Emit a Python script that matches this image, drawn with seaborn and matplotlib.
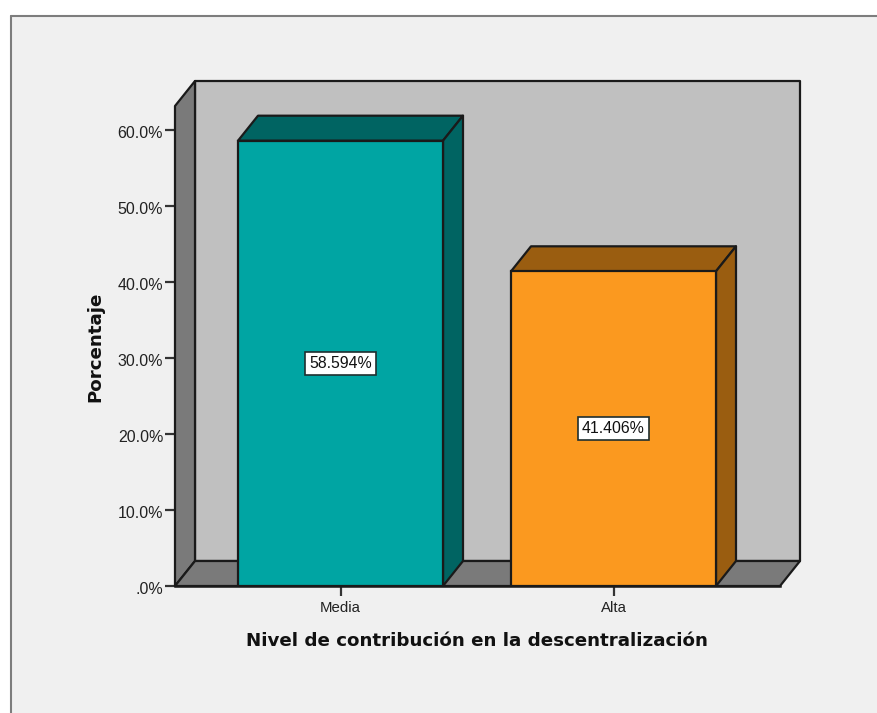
import pandas as pd
import seaborn as sns
import matplotlib
matplotlib.use("Agg")
import matplotlib.pyplot as plt
from matplotlib.lines import Line2D
from matplotlib.patches import Polygon, Rectangle
from matplotlib.transforms import ScaledTranslation

# Values
categorias = ["Media", "Alta"]
porcentajes = [58.594, 41.406]
etiquetas = ["58.594%", "41.406%"]
yticks = [0, 10, 20, 30, 40, 50, 60]
ytick_labels = [".0%", "10.0%", "20.0%", "30.0%", "40.0%", "50.0%", "60.0%"]

W, H = 877, 713
PANEL = "#f0f0f0"
FRENTE = ["#00a5a3", "#fb991f"]
LATERAL = ["#006462", "#9a5d10"]
PARED = "#c0c0c0"
SUELO = "#7a7a7a"
BORDE = "#1a1a1a"

sns.set_theme(style="white")
plt.rcParams["font.family"] = ["Liberation Sans", "DejaVu Sans"]

data = pd.DataFrame({"nivel": categorias, "pct": porcentajes})

fig = plt.figure(figsize=(W / 100, H / 100), dpi=100, facecolor="white")
fig.add_artist(Rectangle((11 / W, 0), 1 - 11 / W, 1 - 16 / H, transform=fig.transFigure,
                         facecolor=PANEL, edgecolor="none", zorder=-5))
for xs, ys in [([10.5 / W, 10.5 / W], [0, 1 - 15.5 / H]), ([10.5 / W, 1], [1 - 15.5 / H, 1 - 15.5 / H])]:
    fig.add_artist(Line2D(xs, ys, color="#7d7d7d", lw=1.5, zorder=-4))

# Axes box = front plane of the 3D box
ax = fig.add_axes([175 / W, 1 - 586 / H, 605 / W, 480 / H])
ax.patch.set_alpha(0)

sns.barplot(data=data, x="nivel", y="pct", hue="nivel", palette=FRENTE, dodge=False, saturation=1,
            legend=False, width=205 / 273, edgecolor=BORDE, linewidth=1.6, ax=ax, zorder=5)

ax.set_xlim(-165.5 / 273, 1 + 166.5 / 273)
ax.set_ylim(0, 480 / 7.6)

# Depth offset of the 3D effect, in data units
dx = 20 / 273
dy = 25 / 7.6
x0, x1 = ax.get_xlim()
y0, y1 = ax.get_ylim()


def poly(puntos, color, z):
    ax.add_patch(Polygon(puntos, closed=True, facecolor=color, edgecolor=BORDE, lw=1.6,
                         joinstyle="round", clip_on=False, zorder=z))


poly([(x0 + dx, y0 + dy), (x1 + dx, y0 + dy), (x1 + dx, y1 + dy), (x0 + dx, y1 + dy)], PARED, 1)
poly([(x0, y0), (x0 + dx, y0 + dy), (x0 + dx, y1 + dy), (x0, y1)], SUELO, 2)
poly([(x0, y0), (x1, y0), (x1 + dx, y0 + dy), (x0 + dx, y0 + dy)], SUELO, 2)

bars = list(ax.patches)[:len(categorias)]
for bar, lado, etiqueta in zip(bars, LATERAL, etiquetas):
    bx0 = bar.get_x()
    bx1 = bx0 + bar.get_width()
    h = bar.get_height()
    poly([(bx0, h), (bx1, h), (bx1 + dx, h + dy), (bx0 + dx, h + dy)], lado, 4)
    poly([(bx1, 0), (bx1 + dx, dy), (bx1 + dx, h + dy), (bx1, h)], lado, 4)
    ax.text(bx0 + bar.get_width() / 2, h / 2, etiqueta, ha="center", va="center", fontsize=11.4,
            color="#111111", zorder=7,
            bbox=dict(boxstyle="square,pad=0.24", facecolor="white", edgecolor="#1f2f2f", lw=1.2))

ax.set_yticks(yticks)
ax.set_yticklabels(ytick_labels, fontsize=11.5, color="#222222")
ax.tick_params(axis="y", length=7.5, width=1.6, color="#333333", pad=1, left=True)
ax.tick_params(axis="x", length=7.5, width=1.6, color="#333333", pad=3, labelsize=10.8,
               labelcolor="#222222", bottom=True)

# y tick labels sit a little under their ticks in the original
for lbl in ax.get_yticklabels():
    lbl.set_transform(lbl.get_transform() + ScaledTranslation(0, -2 / 100, fig.dpi_scale_trans))

sns.despine(ax=ax, top=True, right=True, left=True, bottom=False)
ax.spines["bottom"].set_color(BORDE)
ax.spines["bottom"].set_linewidth(1.8)
ax.spines["bottom"].set_zorder(6)

ax.set_xlabel("")
ax.set_ylabel("")
fig.text(476.5 / W, 1 - 641 / H, "Nivel de contribución en la descentralización", ha="center", va="center",
         fontsize=13.15, fontweight="bold", color="#111111", family="DejaVu Sans")
fig.text(95 / W, 1 - 347 / H, "Porcentaje", ha="center", va="center", rotation=90,
         fontsize=13.15, fontweight="bold", color="#111111", family="DejaVu Sans")

fig.savefig("out.png", dpi=100, facecolor="white")
